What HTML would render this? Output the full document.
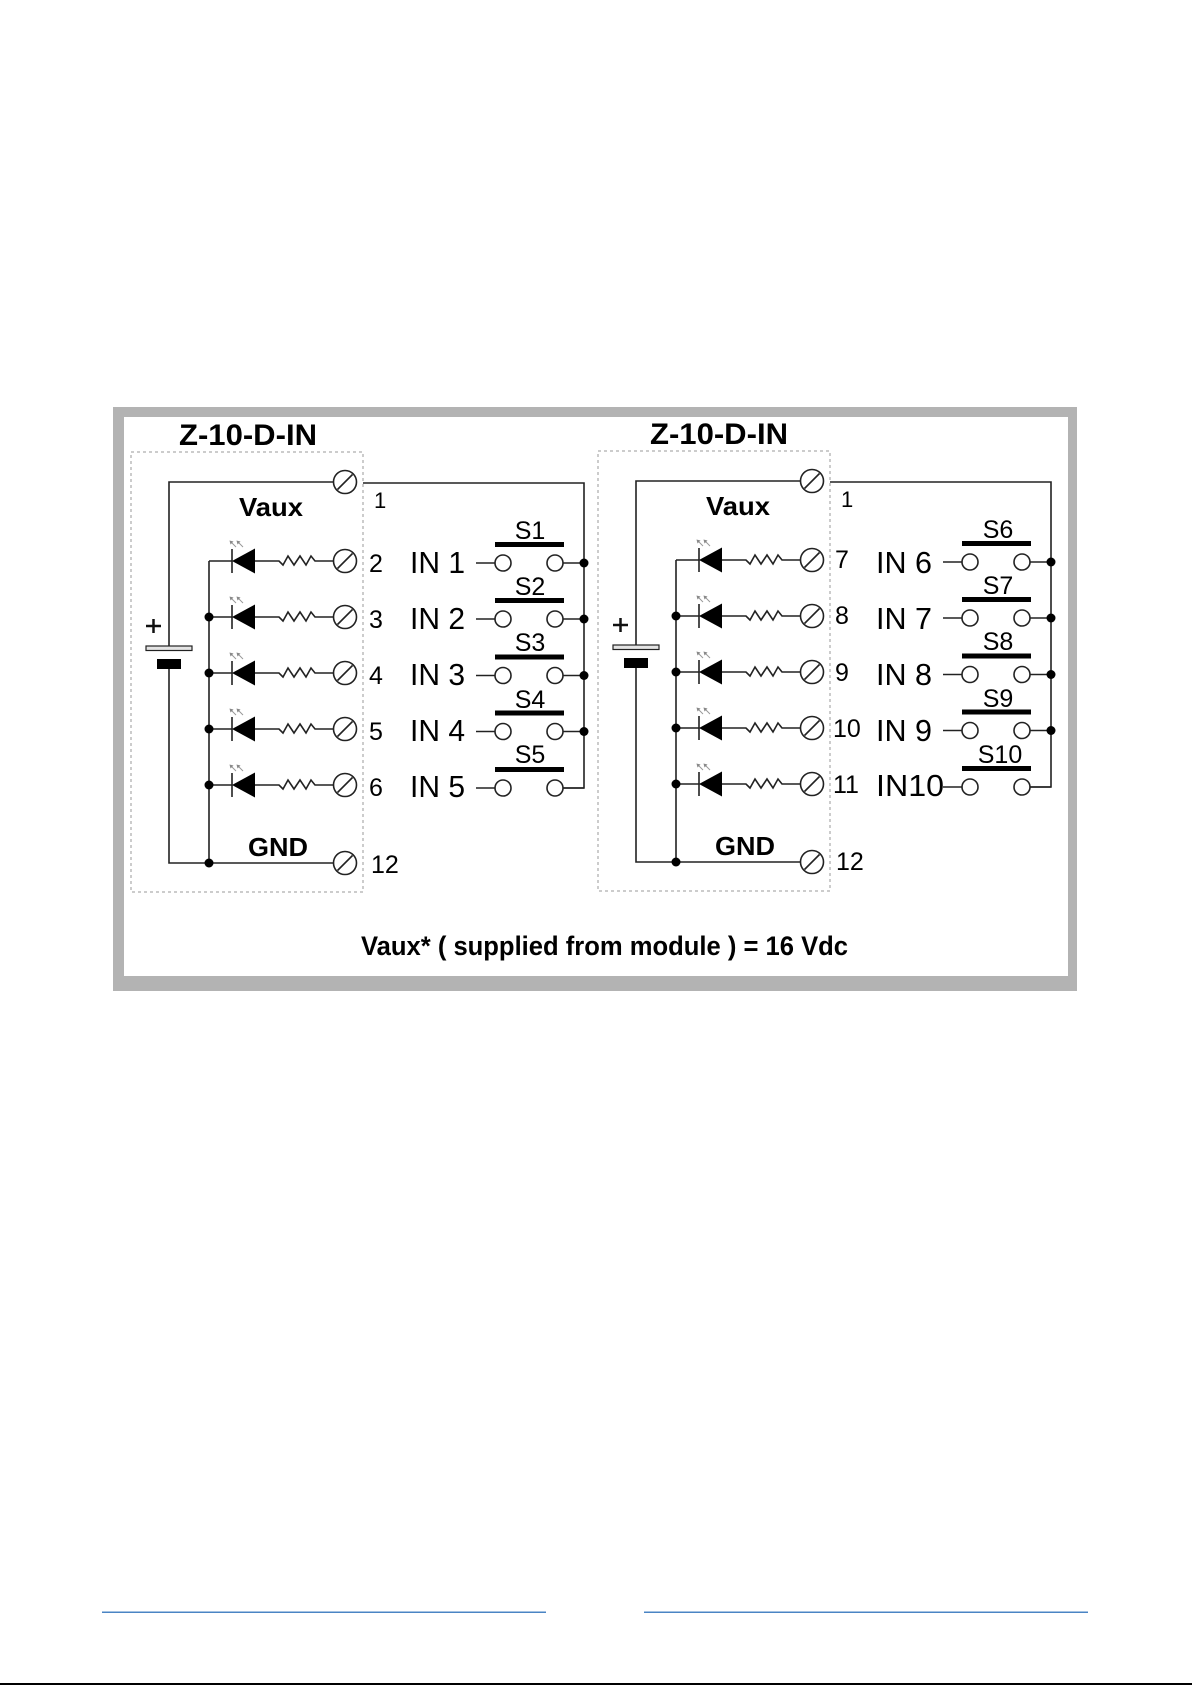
<!DOCTYPE html>
<html>
<head>
<meta charset="utf-8">
<style>
html,body{margin:0;padding:0;background:#fff;}
svg{display:block;}
</style>
</head>
<body>
<svg width="1192" height="1685" viewBox="0 0 1192 1685" xmlns="http://www.w3.org/2000/svg" font-family="'Liberation Sans', Arial, sans-serif">
<defs>
  <g id="term" stroke="#222" stroke-width="1.6">
    <circle cx="345" cy="0" r="11.5" fill="#fff"/>
    <line x1="337.5" y1="7.5" x2="352.5" y2="-7.5"/>
  </g>
  <g id="led">
    <g stroke="#222" stroke-width="1.6" fill="none">
      <line x1="209" y1="0" x2="232" y2="0"/>
      <line x1="232" y1="-12" x2="232" y2="12"/>
      <polyline points="255,0 279,0 283,4 288,-5 294,4 300,-5 306,4 311,-5 315,0 333.5,0"/>
    </g>
    <polygon points="232,0 255,-12.5 255,12.5" fill="#000"/>
    <g stroke="#999" stroke-width="1">
      <line x1="236" y1="-14" x2="231" y2="-19"/>
      <line x1="243" y1="-14" x2="238" y2="-19"/>
    </g>
    <polygon points="229.5,-20.5 233.5,-19.5 230.5,-16.5" fill="#888"/>
    <polygon points="236.5,-20.5 240.5,-19.5 237.5,-16.5" fill="#888"/>
    <use href="#term"/>
  </g>
  <g id="sw">
    <g stroke="#222" stroke-width="1.6">
      <line x1="476" y1="0" x2="495" y2="0"/>
      <line x1="563" y1="0" x2="584" y2="0"/>
      <circle cx="503" cy="0" r="8" fill="#fff"/>
      <circle cx="555" cy="0" r="8" fill="#fff"/>
    </g>
    <rect x="495" y="-21" width="69" height="5" fill="#000"/>
  </g>
  <g id="module">
    <rect x="131" y="452" width="232" height="440" fill="none" stroke="#999" stroke-width="1" stroke-dasharray="3 3"/>
    <g stroke="#111" stroke-width="2.5">
      <line x1="146" y1="626" x2="161" y2="626"/>
      <line x1="153.5" y1="619" x2="153.5" y2="633"/>
    </g>
    <rect x="146" y="646" width="46" height="4.5" fill="#e4e4e4" stroke="#222" stroke-width="1.2"/>
    <rect x="157" y="659" width="24" height="10" fill="#000"/>
    <g stroke="#222" stroke-width="1.6" fill="none">
      <polyline points="169,646 169,482 333.5,482"/>
      <polyline points="169,669 169,863 333.5,863"/>
      <line x1="209" y1="561" x2="209" y2="863"/>
      <polyline points="363,483 584,483 584,788 563,788"/>
    </g>
    <use href="#term" y="482"/>
    <use href="#term" y="863"/>
    <use href="#led" y="561"/>
    <use href="#led" y="617"/>
    <use href="#led" y="673"/>
    <use href="#led" y="729"/>
    <use href="#led" y="785"/>
    <use href="#sw" y="563"/>
    <use href="#sw" y="619"/>
    <use href="#sw" y="675.5"/>
    <use href="#sw" y="731.5"/>
    <use href="#sw" y="788"/>
    <g fill="#000">
      <circle cx="209" cy="617" r="4.5"/>
      <circle cx="209" cy="673" r="4.5"/>
      <circle cx="209" cy="729" r="4.5"/>
      <circle cx="209" cy="785" r="4.5"/>
      <circle cx="209" cy="863" r="4.5"/>
      <circle cx="584" cy="563" r="4.5"/>
      <circle cx="584" cy="619" r="4.5"/>
      <circle cx="584" cy="675.5" r="4.5"/>
      <circle cx="584" cy="731.5" r="4.5"/>
    </g>
    <text x="239" y="516" font-size="26" font-weight="bold" textLength="64" lengthAdjust="spacingAndGlyphs">Vaux</text>
    <text x="248" y="856" font-size="26" font-weight="bold" textLength="60" lengthAdjust="spacingAndGlyphs">GND</text>
    <text x="374" y="508" font-size="22">1</text>
  </g>
</defs>

<rect x="113" y="407" width="964" height="584" fill="#b3b3b3"/>
<rect x="124" y="417" width="944" height="559" fill="#fff"/>

<text x="179" y="445" font-size="30" font-weight="bold" textLength="138" lengthAdjust="spacingAndGlyphs">Z-10-D-IN</text>
<text x="650" y="444" font-size="30" font-weight="bold" textLength="138" lengthAdjust="spacingAndGlyphs">Z-10-D-IN</text>

<use href="#module"/>
<g font-size="25" fill="#000">
  <text x="369" y="572">2</text>
  <text x="369" y="628">3</text>
  <text x="369" y="684">4</text>
  <text x="369" y="740">5</text>
  <text x="369" y="796">6</text>
  <text x="371" y="873">12</text>
</g>
<g font-size="31" fill="#000">
  <text x="410" y="573" textLength="55" lengthAdjust="spacingAndGlyphs">IN 1</text>
  <text x="410" y="629" textLength="55" lengthAdjust="spacingAndGlyphs">IN 2</text>
  <text x="410" y="685" textLength="55" lengthAdjust="spacingAndGlyphs">IN 3</text>
  <text x="410" y="741" textLength="55" lengthAdjust="spacingAndGlyphs">IN 4</text>
  <text x="410" y="797" textLength="55" lengthAdjust="spacingAndGlyphs">IN 5</text>
</g>
<g font-size="25" fill="#000" text-anchor="middle">
  <text x="530" y="539">S1</text>
  <text x="530" y="595">S2</text>
  <text x="530" y="651">S3</text>
  <text x="530" y="708">S4</text>
  <text x="530" y="763">S5</text>
</g>

<g transform="translate(467,-1)">
  <use href="#module"/>
  <g font-size="25" fill="#000">
    <text x="368" y="569">7</text>
    <text x="368" y="625">8</text>
    <text x="368" y="682">9</text>
    <text x="366" y="738">10</text>
    <text x="366" y="794">11</text>
    <text x="369" y="871">12</text>
  </g>
  <g font-size="31" fill="#000">
    <text x="409" y="574" textLength="56" lengthAdjust="spacingAndGlyphs">IN 6</text>
    <text x="409" y="630" textLength="56" lengthAdjust="spacingAndGlyphs">IN 7</text>
    <text x="409" y="686" textLength="56" lengthAdjust="spacingAndGlyphs">IN 8</text>
    <text x="409" y="742" textLength="56" lengthAdjust="spacingAndGlyphs">IN 9</text>
    <text x="409" y="797" textLength="68" lengthAdjust="spacingAndGlyphs">IN10</text>
  </g>
  <g font-size="25" fill="#000" text-anchor="middle">
    <text x="531" y="539">S6</text>
    <text x="531" y="595">S7</text>
    <text x="531" y="651">S8</text>
    <text x="531" y="708">S9</text>
    <text x="533" y="764">S10</text>
  </g>
</g>

<text x="361" y="955" font-size="27" font-weight="bold" textLength="487" lengthAdjust="spacingAndGlyphs">Vaux* ( supplied from module ) = 16 Vdc</text>

<rect x="102" y="1611.5" width="444" height="1.5" fill="#4a84c4"/>
<rect x="644" y="1611.5" width="444" height="1.5" fill="#4a84c4"/>
<rect x="0" y="1683" width="1192" height="2" fill="#000"/>
</svg>
</body>
</html>
